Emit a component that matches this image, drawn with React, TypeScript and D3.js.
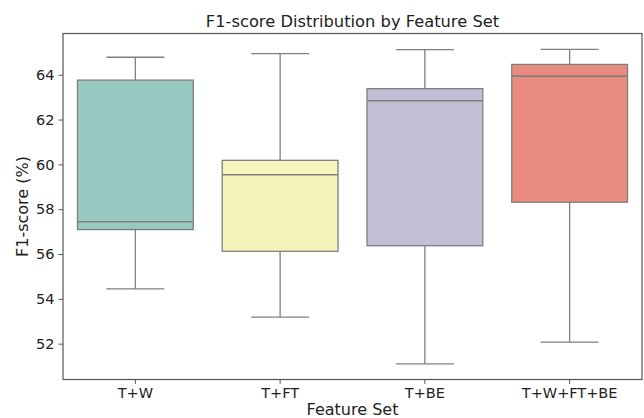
import React, { useRef, useEffect } from "react";
import * as d3 from "d3";

const featureSets = ["T+W", "T+FT", "T+BE", "T+W+FT+BE"];
const whiskerLow = [54.44, 53.18, 51.1, 52.07];
const q1 = [57.09, 56.12, 56.37, 58.31];
const median = [57.44, 59.54, 62.84, 63.94];
const q3 = [63.76, 60.18, 63.38, 64.46];
const whiskerHigh = [64.78, 64.94, 65.12, 65.13];
const boxColors = ["#98c9c1", "#f5f5bb", "#c1bed6", "#ea8b80"];
const yTicks = [52, 54, 56, 58, 60, 62, 64];

const App = () => {
  const svgRef = useRef<SVGSVGElement>(null);

  useEffect(() => {
    const width = 644;
    const height = 418;
    const margin = { top: 33.5, right: 2, bottom: 38.5, left: 63 };
    const font = "DejaVu Sans, sans-serif";
    const edge = "#7f7f7f";

    const svg = d3.select(svgRef.current);
    svg.selectAll("*").remove();

    const x = d3
      .scaleBand()
      .domain(featureSets)
      .range([margin.left, width - margin.right])
      .paddingInner(0.2)
      .paddingOuter(0.1);

    const y = d3
      .scaleLinear()
      .domain([50.4, 65.84])
      .range([height - margin.bottom, margin.top]);

    const data = featureSets.map((name, i) => ({
      name,
      lo: whiskerLow[i],
      q1: q1[i],
      med: median[i],
      q3: q3[i],
      hi: whiskerHigh[i],
      color: boxColors[i],
    }));

    const bw = x.bandwidth();
    const groups = svg
      .selectAll(".box")
      .data(data)
      .enter()
      .append("g")
      .attr("class", "box");

    const cx = (d) => x(d.name) + bw / 2;

    // whiskers
    groups
      .append("line")
      .attr("x1", cx)
      .attr("x2", cx)
      .attr("y1", (d) => y(d.q3))
      .attr("y2", (d) => y(d.hi))
      .attr("stroke", edge)
      .attr("stroke-width", 1.3);
    groups
      .append("line")
      .attr("x1", cx)
      .attr("x2", cx)
      .attr("y1", (d) => y(d.q1))
      .attr("y2", (d) => y(d.lo))
      .attr("stroke", edge)
      .attr("stroke-width", 1.3);
    // caps
    [(d) => d.hi, (d) => d.lo].forEach((acc) => {
      groups
        .append("line")
        .attr("x1", (d) => cx(d) - bw / 4)
        .attr("x2", (d) => cx(d) + bw / 4)
        .attr("y1", (d) => y(acc(d)))
        .attr("y2", (d) => y(acc(d)))
        .attr("stroke", edge)
        .attr("stroke-width", 1.3);
    });
    // boxes
    groups
      .append("rect")
      .attr("x", (d) => x(d.name))
      .attr("y", (d) => y(d.q3))
      .attr("width", bw)
      .attr("height", (d) => y(d.q1) - y(d.q3))
      .attr("fill", (d) => d.color)
      .attr("stroke", edge)
      .attr("stroke-width", 1.3);
    // medians
    groups
      .append("line")
      .attr("x1", (d) => x(d.name))
      .attr("x2", (d) => x(d.name) + bw)
      .attr("y1", (d) => y(d.med))
      .attr("y2", (d) => y(d.med))
      .attr("stroke", edge)
      .attr("stroke-width", 1.6);

    // axes
    const yAxis = svg
      .append("g")
      .attr("transform", `translate(${margin.left},0)`)
      .call(d3.axisLeft(y).tickValues(yTicks).tickSize(4.5).tickPadding(4));
    const xAxis = svg
      .append("g")
      .attr("transform", `translate(0,${height - margin.bottom})`)
      .call(d3.axisBottom(x).tickSize(4.5).tickPadding(4));

    [xAxis, yAxis].forEach((g) => {
      g.select(".domain").remove();
      g.selectAll(".tick line").attr("stroke", "#444").attr("stroke-width", 0.9);
      g.selectAll(".tick text")
        .attr("fill", "#222")
        .style("font-family", font)
        .style("font-size", "14.5px");
    });

    // frame
    svg
      .append("rect")
      .attr("x", margin.left)
      .attr("y", margin.top)
      .attr("width", width - margin.right - margin.left)
      .attr("height", height - margin.bottom - margin.top)
      .attr("fill", "none")
      .attr("stroke", "#555")
      .attr("stroke-width", 1.2);

    svg
      .append("text")
      .attr("x", (margin.left + width - margin.right) / 2)
      .attr("y", 27)
      .attr("text-anchor", "middle")
      .style("font-family", font)
      .style("font-size", "16.3px")
      .attr("fill", "#222")
      .text("F1-score Distribution by Feature Set");

    svg
      .append("text")
      .attr("x", (margin.left + width - margin.right) / 2)
      .attr("y", 415)
      .attr("text-anchor", "middle")
      .style("font-family", font)
      .style("font-size", "16px")
      .attr("fill", "#222")
      .text("Feature Set");

    svg
      .append("text")
      .attr("transform", `translate(28,${(margin.top + height - margin.bottom) / 2}) rotate(-90)`)
      .attr("text-anchor", "middle")
      .style("font-family", font)
      .style("font-size", "16px")
      .attr("fill", "#222")
      .text("F1-score (%)");
  }, []);

  return (
    <svg
      ref={svgRef}
      width={644}
      height={418}
      style={{ position: "absolute", left: 0, top: 0, background: "#fff" }}
    ></svg>
  );
};

export default App;
